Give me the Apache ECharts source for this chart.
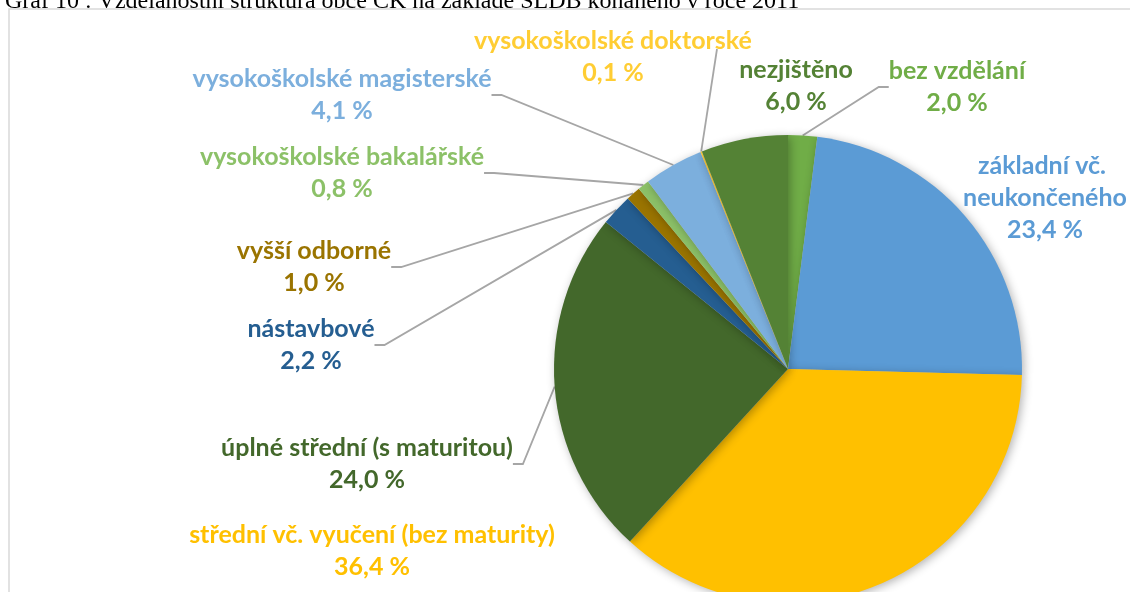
<!DOCTYPE html>
<html>
<head>
<meta charset="utf-8">
<title>Vzdělanostní struktura obce ČK</title>
<script src="https://cdn.jsdelivr.net/npm/echarts@6/dist/echarts.min.js"></script>
<style>
  html, body { margin: 0; padding: 0; background: #fff; }
  #chart { width: 1130px; height: 592px; }
</style>
</head>
<body>
<div id="chart"></div>
<script>
// kategorie a hodnoty (%), po směru hodinových ručiček od 12 hodin
var categories = ['bez vzdělání', 'základní vč. neukončeného', 'střední vč. vyučení (bez maturity)',
  'úplné střední (s maturitou)', 'nástavbové', 'vyšší odborné', 'vysokoškolské bakalářské',
  'vysokoškolské magisterské', 'vysokoškolské doktorské', 'nezjištěno'];
var values = [2.0, 23.4, 36.4, 24.0, 2.2, 1.0, 0.8, 4.1, 0.1, 6.0];
var colors = ['#70AD47', '#5B9BD5', '#FFC000', '#43682B', '#255E91', '#9A7400', '#8CC168', '#7CAFDD', '#FFCD33', '#548235'];

// umístění popisků (střed bloku textu)
var labelPos = [[957, 87], [1045, 198], [372, 551], [367, 464], [311, 345], [314, 267], [342, 173], [342, 95], [613, 57], [796, 86]];
// popisky bez vodicí čáry
var noLine = [1, 2, 9];
// konec vodicí čáry u popisku (jen kde se liší od automatiky)
var lineEnd = { 8: [717, 49] };

var chart = echarts.init(document.getElementById('chart'));

var data = categories.map(function (name, i) {
  var item = {
    name: name,
    value: values[i],
    itemStyle: { color: colors[i] },
    label: { color: colors[i] }
  };
  if (i === 1) {
    item.label.width = 200;
    item.label.overflow = 'break';
  }
  if (noLine.indexOf(i) >= 0) {
    item.labelLine = { show: false };
  }
  return item;
});

chart.setOption({
  animation: false,
  graphic: [{
    type: 'rect',
    shape: { x: 9, y: 9, width: 1300, height: 800 },
    style: { fill: 'none', stroke: '#D9D9D9', lineWidth: 1.5 },
    z: -10
  }],
  title: {
    text: 'Graf 10 : Vzdělanostní struktura obce ČK na základě SLDB konaného v roce 2011',
    left: 0,
    top: -15,
    textStyle: { fontFamily: 'Liberation Serif', fontWeight: 'normal', fontSize: 24, color: '#000' }
  },
  series: [{
    type: 'pie',
    center: [788, 369],
    radius: 234,
    startAngle: 90,
    clockwise: true,
    data: data,
    itemStyle: {
      borderWidth: 0,
      shadowBlur: 10,
      shadowOffsetX: 2,
      shadowOffsetY: 2,
      shadowColor: 'rgba(0,0,0,0.3)'
    },
    label: {
      show: true,
      fontFamily: 'Lato',
      fontWeight: 'bold',
      fontSize: 25,
      lineHeight: 32,
      align: 'center',
      overflow: 'none',
      formatter: function (p) {
        return p.name + '\n' + p.value.toFixed(1).replace('.', ',') + ' %';
      }
    },
    labelLine: {
      show: true,
      length: 10,
      length2: 10,
      lineStyle: { color: '#A6A6A6', width: 1.8 }
    },
    labelLayout: function (params) {
      var i = params.dataIndex;
      var p = labelPos[i];
      var out = { x: p[0], y: p[1], align: 'center', verticalAlign: 'middle' };
      if (lineEnd[i] && params.labelLinePoints) {
        out.labelLinePoints = [params.labelLinePoints[0], lineEnd[i], lineEnd[i]];
      }
      return out;
    }
  }]
});
</script>
</body>
</html>
